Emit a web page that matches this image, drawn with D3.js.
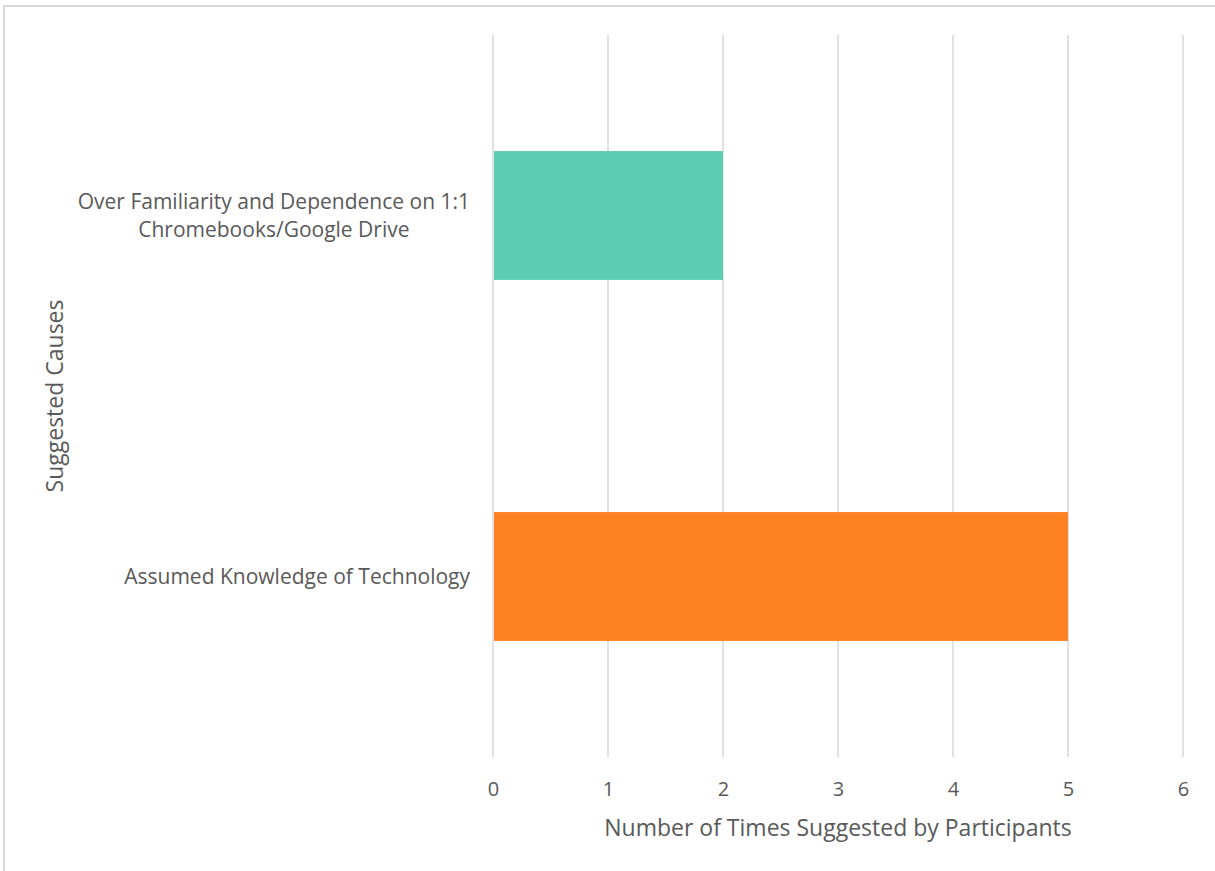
<!DOCTYPE html>
<html>
<head>
<meta charset="utf-8">
<script src="https://cdn.jsdelivr.net/npm/d3@7"></script>
<style>
  html, body { margin: 0; padding: 0; background: #fff; }
  svg { display: block; }
  text { font-family: "Open Sans", "Noto Sans", sans-serif; fill: #595959; }
</style>
</head>
<body>
<svg id="chart" width="1215" height="871"></svg>
<script>
// Suggested causes and how often participants named them
const categories = [
  ["Over Familiarity and Dependence on 1:1", "Chromebooks/Google Drive"],
  ["Assumed Knowledge of Technology"]
];
const counts = [2, 5];
const barColors = ["#5ccfb2", "#ff8222"];
const xTicks = [0, 1, 2, 3, 4, 5, 6];
const xTitle = "Number of Times Suggested by Participants";
const yTitle = "Suggested Causes";

const svg = d3.select("#chart");
const W = 1215, H = 871;
const plot = { left: 493, right: 1183, top: 35, bottom: 757 };

// chart frame
svg.append("rect")
  .attr("x", 4).attr("y", 6)
  .attr("width", W + 10).attr("height", H + 10)
  .attr("fill", "#fff").attr("stroke", "#d9d9d9").attr("stroke-width", 2);

const x = d3.scaleLinear().domain([0, 6]).range([plot.left, plot.right]);
const gap = 0.643;
const y = d3.scaleBand()
  .domain(categories.map((d, i) => i))
  .range([plot.top, plot.bottom])
  .paddingInner(gap).paddingOuter(gap / 2);

// vertical gridlines
svg.append("g").selectAll("line")
  .data(xTicks).join("line")
  .attr("x1", d => x(d)).attr("x2", d => x(d))
  .attr("y1", plot.top).attr("y2", plot.bottom)
  .attr("stroke", "#d9d9d9").attr("stroke-width", 1.5);

// bars
svg.append("g").selectAll("rect")
  .data(counts).join("rect")
  .attr("x", x(0) + 1)
  .attr("y", (d, i) => y(i))
  .attr("width", d => x(d) - x(0) - 1)
  .attr("height", y.bandwidth())
  .attr("fill", (d, i) => barColors[i]);

// x tick labels
const xAxis = d3.axisBottom(x).tickValues(xTicks).tickSize(0).tickPadding(0).tickFormat(d3.format("d"));
const gx = svg.append("g").attr("transform", `translate(0, ${plot.bottom + 39})`).call(xAxis);
gx.select(".domain").remove();
gx.selectAll("text").attr("font-size", 20).attr("fill", "#595959")
  .style("font-family", '"Open Sans", sans-serif').attr("dy", 0);

// category labels: right edge at 470, wrapped lines centred on each other
const labelRight = 470;
const yl = svg.append("g");
categories.forEach((lines, i) => {
  const cy = y(i) + y.bandwidth() / 2;
  const lh = 28;
  const t = yl.append("text")
    .attr("text-anchor", "middle")
    .attr("font-size", 21);
  const spans = lines.map((ln, k) => t.append("tspan")
    .attr("y", cy + (k - (lines.length - 1) / 2) * lh + 7)
    .text(ln));
  const widest = d3.max(spans, s => s.node().getComputedTextLength());
  spans.forEach(s => s.attr("x", labelRight - widest / 2));
});

// axis titles
svg.append("text")
  .attr("x", (plot.left + plot.right) / 2).attr("y", 836)
  .attr("text-anchor", "middle").attr("font-size", 23)
  .text(xTitle);

svg.append("text")
  .attr("transform", `translate(63, ${(plot.top + plot.bottom) / 2}) rotate(-90)`)
  .attr("text-anchor", "middle").attr("font-size", 23)
  .text(yTitle);
</script>
</body>
</html>
